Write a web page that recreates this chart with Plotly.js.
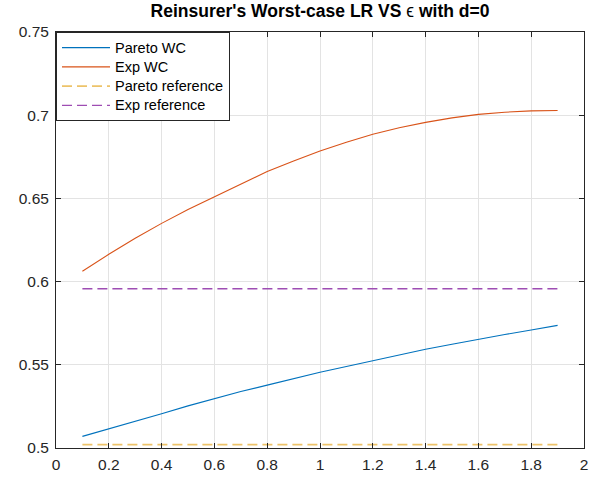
<!DOCTYPE html>
<html>
<head>
<meta charset="utf-8">
<script src="https://cdn.plot.ly/plotly-3.0.1.min.js"></script>
<style>html,body{margin:0;padding:0;background:#fff;}#chart{width:602px;height:477px;}</style>
</head>
<body>
<div id="chart"></div>
<script>
var epsilon = [0.1,0.2,0.3,0.4,0.5,0.6,0.7,0.8,0.9,1.0,1.1,1.2,1.3,1.4,1.5,1.6,1.7,1.8,1.9];
var paretoWC = [0.5070,0.5114,0.5160,0.5206,0.5253,0.5298,0.5339,0.5378,0.5417,0.5455,0.5490,0.5525,0.5560,0.5593,0.5624,0.5654,0.5682,0.5709,0.5737];
var expWC = [0.6062,0.6164,0.6260,0.6350,0.6433,0.6510,0.6588,0.6661,0.6725,0.6785,0.6838,0.6885,0.6925,0.6957,0.6984,0.7005,0.7018,0.7026,0.7028];
var paretoRef = 0.5020;
var expRef = 0.5957;
var seriesNames = ["Pareto WC","Exp WC","Pareto reference","Exp reference"];
var xTicks = [0,0.2,0.4,0.6,0.8,1,1.2,1.4,1.6,1.8,2];
var yTicks = [0.5,0.55,0.6,0.65,0.7,0.75];

function legendName(s) { return "<span style='font-size:14.5px'>" + s + "</span>"; }

var traces = [
  {x: epsilon, y: paretoWC, name: legendName(seriesNames[0]), mode: 'lines', line: {color: '#0072BD', width: 1.1}},
  {x: epsilon, y: expWC, name: legendName(seriesNames[1]), mode: 'lines', line: {color: '#D95319', width: 1.1}},
  {x: epsilon, y: epsilon.map(function(){return paretoRef;}), name: legendName(seriesNames[2]), mode: 'lines', line: {color: '#EDC36A', width: 1.6, dash: '10px,5px'}},
  {x: epsilon, y: epsilon.map(function(){return expRef;}), name: legendName(seriesNames[3]), mode: 'lines', line: {color: '#9E4DB3', width: 1.4, dash: '10px,5px'}}
];

var axisCommon = {
  showgrid: true, gridcolor: '#E3E3E3', gridwidth: 1,
  showline: true, linecolor: '#262626', linewidth: 1, mirror: 'ticks',
  ticks: 'inside', ticklen: 5, tickcolor: '#262626', tickwidth: 1,
  zeroline: false,
  tickfont: {family: 'Liberation Sans, Arial, sans-serif', size: 15.5, color: '#262626'}
};

var layout = {
  width: 602, height: 477,
  margin: {l: 56, r: 18, t: 32, b: 29, pad: 0},
  paper_bgcolor: '#ffffff', plot_bgcolor: '#ffffff',
  title: {
    text: "Reinsurer's Worst-case LR VS <span style='font-weight:normal'>ϵ</span> with d=0",
    font: {family: 'Liberation Sans, Arial, sans-serif', size: 17.5, color: '#000000', weight: 'bold'},
    x: 0.5, xref: 'paper', xanchor: 'center', y: 1, yref: 'container', yanchor: 'top', pad: {t: 5}
  },
  xaxis: Object.assign({}, axisCommon, {range: [0, 2], tickvals: xTicks, ticktext: xTicks.map(String), ticklabelstandoff: 2}),
  yaxis: Object.assign({}, axisCommon, {range: [0.5, 0.75], tickvals: yTicks, ticktext: yTicks.map(String), ticklabelstandoff: 3}),
  showlegend: true,
  legend: {
    x: 0, y: 1, xanchor: 'left', yanchor: 'top',
    bgcolor: '#ffffff', bordercolor: '#262626', borderwidth: 1,
    font: {family: 'Liberation Sans, Arial, sans-serif', size: 12.5, color: '#000000'},
    itemwidth: 48, tracegroupgap: 0
  }
};

Plotly.newPlot('chart', traces, layout, {staticPlot: true, displayModeBar: false});
</script>
</body>
</html>
